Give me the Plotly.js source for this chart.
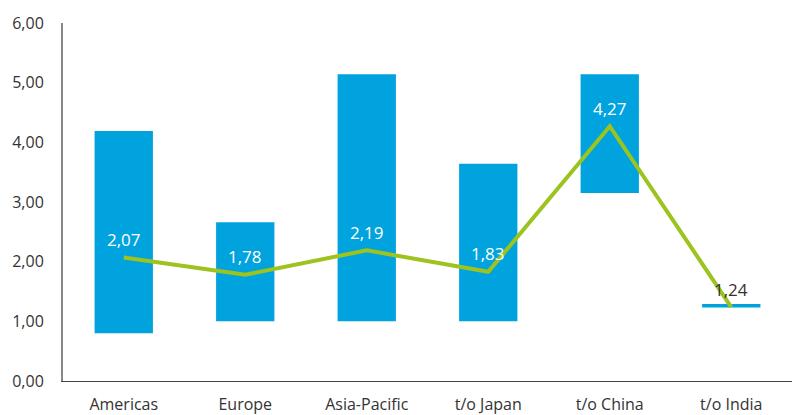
<!DOCTYPE html>
<html><head><meta charset="utf-8">
<script src="https://cdn.plot.ly/plotly-3.0.1.min.js"></script>
<style>html,body{margin:0;padding:0;background:#fff}#chart{width:792px;height:415px}</style>
</head><body><div id="chart"></div>
<script>
var categories = ['Americas','Europe','Asia-Pacific','t/o Japan','t/o China','t/o India'];
var rangeLow  = [0.80, 1.00, 1.00, 1.00, 3.15, 1.23];
var rangeHigh = [4.19, 2.66, 5.14, 3.64, 5.14, 1.29];
var averages  = [2.07, 1.78, 2.19, 1.83, 4.27, 1.24];
var labelColors = ['#ffffff','#ffffff','#ffffff','#ffffff','#ffffff','#333333'];
var yTicks = [0,1,2,3,4,5,6];

var barTrace = {
  type:'bar', x:categories,
  base:rangeLow,
  y:rangeHigh.map(function(h,i){return h-rangeLow[i];}),
  marker:{color:'#00A3DD'}, width:0.48, hoverinfo:'none'
};
var lineTrace = {
  type:'scatter', mode:'lines', x:categories, y:averages,
  line:{color:'#9DC31F', width:4}, hoverinfo:'none'
};
var annotations = categories.map(function(c,i){
  return {x:c, y:averages[i], xref:'x', yref:'y', text:averages[i].toFixed(2).replace('.',','),
    showarrow:false, yshift:18, font:{family:'Open Sans', size:17, color:labelColors[i]}};
});
var layout = {
  width:792, height:415,
  margin:{l:63, r:0, t:23, b:34},
  separators:',.',
  showlegend:false,
  paper_bgcolor:'#fff', plot_bgcolor:'#fff',
  font:{family:'Open Sans', size:16, color:'#333'},
  annotations:annotations,
  xaxis:{type:'category', range:[-0.5,5.5], showgrid:false, zeroline:false,
    showline:true, linecolor:'#444', linewidth:1,
    ticks:'outside', ticklen:9, tickcolor:'rgba(0,0,0,0)',
    tickfont:{size:16, color:'#333'}},
  yaxis:{range:[0,6], tickvals:yTicks, tickformat:'.2f', showgrid:false, zeroline:false,
    showline:true, linecolor:'#888', linewidth:2,
    ticks:'outside', ticklen:14, tickcolor:'rgba(0,0,0,0)',
    tickfont:{size:16, color:'#333'}}
};
Plotly.newPlot('chart',[barTrace,lineTrace],layout,{displayModeBar:false,staticPlot:true});
</script></body></html>
